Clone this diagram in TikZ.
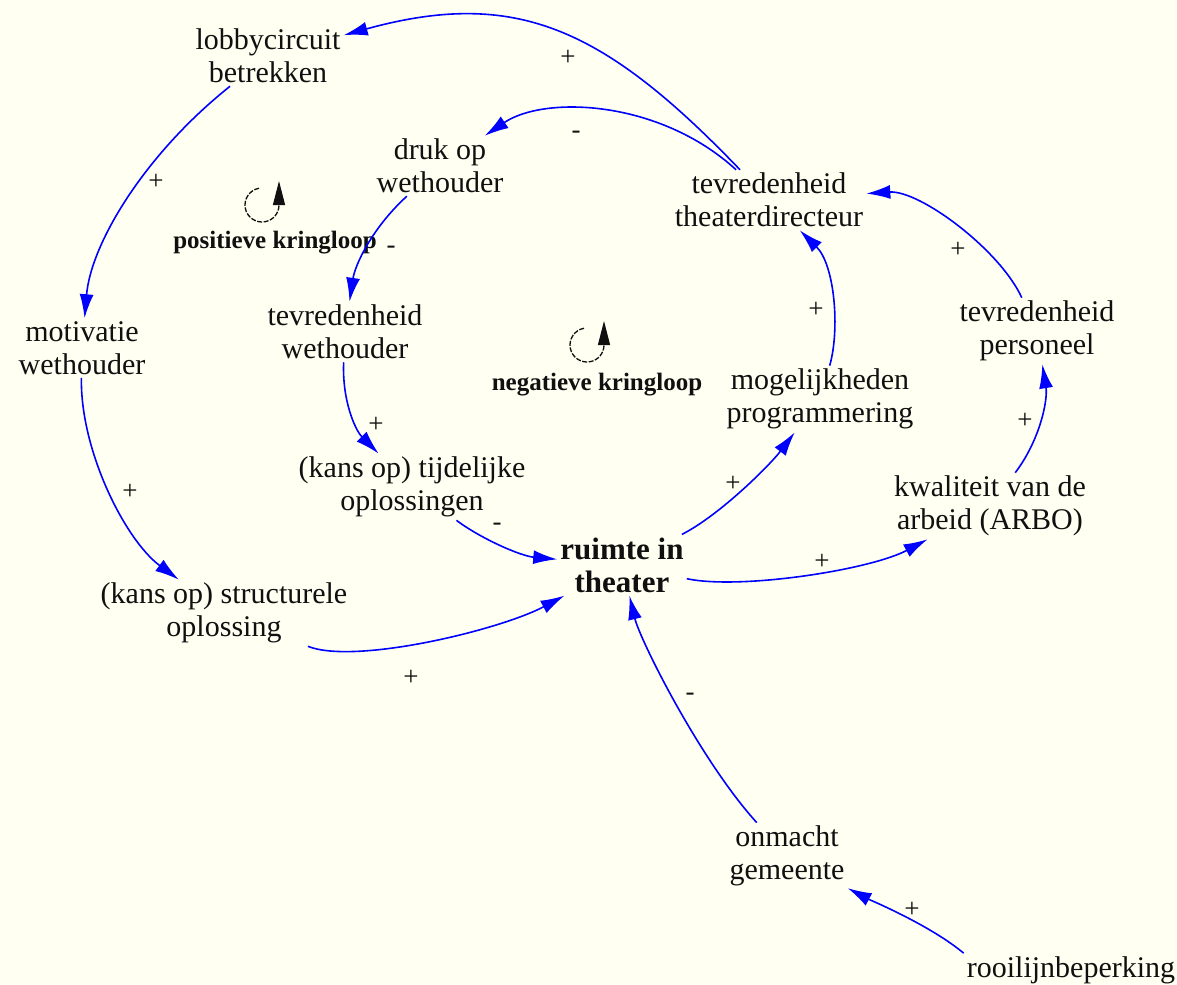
\documentclass[tikz,border=0pt]{standalone}
\usepackage{fontspec}
\setmainfont{Liberation Serif}
\usetikzlibrary{arrows.meta}
\definecolor{cldbg}{RGB}{255,255,242}
\definecolor{cldlink}{RGB}{0,0,255}
\definecolor{cldink}{RGB}{16,16,16}
\tikzset{
  var/.style={
    align=center, inner sep=3bp, text=cldink,
    font=\fontsize{30bp}{33bp}\selectfont
  },
  keyvar/.style={var, font=\fontsize{31bp}{33bp}\selectfont\bfseries},
  pol/.style={inner sep=0pt, text=cldink, font=\fontsize{27bp}{28bp}\selectfont},
  lnk/.style={-{Latex[length=24bp,width=14bp]}, draw=cldlink, line width=1.6bp},
  loopname/.style={inner sep=0pt, text=cldink, font=\fontsize{25bp}{27bp}\selectfont\bfseries},
  loopline/.style={
    -{Triangle[length=24bp,width=12bp]}, draw=cldink, line width=1.3bp,
    dash pattern=on 5bp off 1.5bp
  }
}

\begin{document}
\begin{tikzpicture}[x=1bp, y=-1bp]
  \fill[cldbg] (0,0) rectangle (1177,985);
  \useasboundingbox (0,0) rectangle (1177,985);
  % variables
  \node[var] (lobby) at (268,56) {lobbycircuit\\betrekken};
  \node[var] (druk) at (440,166) {druk op\\wethouder};
  \node[var] (tdir) at (769,200) {tevredenheid\\theaterdirecteur};
  \node[var] (motw) at (82,348) {motivatie\\wethouder};
  \node[var] (tweth) at (345,332) {tevredenheid\\wethouder};
  \node[var] (tpers) at (1037,331) {tevredenheid\\personeel};
  \node[var] (moge) at (820,399) {mogelijkheden\\programmering};
  \node[var] (tijd) at (412,487) {(kans op) tijdelijke\\oplossingen};
  \node[var] (kwal) at (990,506) {kwaliteit van de\\arbeid (ARBO)};
  \node[keyvar] (ruimte) at (622,565) {ruimte in\\theater};
  \node[var] (struct) at (224,613) {(kans op) structurele\\oplossing};
  \node[var] (onmacht) at (787,856) {onmacht\\gemeente};
  \node[var] (rooi) at (1071,970) {rooilijnbeperking};
  % loop markers
  \coordinate (posc) at (262,205);
  \draw[loopline] ([shift={(100:17bp)}]posc) arc[start angle=100, end angle=360, radius=17bp] -- ++(0,24bp);
  \node[loopname] (posl) at (275,243) {positieve kringloop};
  \coordinate (negc) at (587,345);
  \draw[loopline] ([shift={(100:17bp)}]negc) arc[start angle=100, end angle=360, radius=17bp] -- ++(0,24bp);
  \node[loopname] (negl) at (597,385) {negatieve kringloop};
  % links
  \draw[lnk] (tdir) .. controls (603,27) and (515,-12) .. (lobby);
  \draw[lnk] (tdir) .. controls (660,100) and (545,95) .. (druk);
  \draw[lnk] (lobby) .. controls (145,154) and (91,243) .. (motw);
  \draw[lnk] (druk) .. controls (372,228) and (355,265) .. (tweth);
  \draw[lnk] (motw) .. controls (80,450) and (125,540) .. (struct);
  \draw[lnk] (tweth) .. controls (342,400) and (355,430) .. (tijd);
  \draw[lnk] (tijd) .. controls (480,538) and (520,556) .. (ruimte);
  \draw[lnk] (struct) .. controls (355,665) and (500,630) .. (ruimte);
  \draw[lnk] (ruimte) .. controls (720,515) and (770,465) .. (moge);
  \draw[lnk] (moge) .. controls (840,330) and (835,265) .. (tdir);
  \draw[lnk] (ruimte) .. controls (740,590) and (870,570) .. (kwal);
  \draw[lnk] (kwal) .. controls (1040,440) and (1048,400) .. (tpers);
  \draw[lnk] (tpers) .. controls (1000,250) and (920,190) .. (tdir);
  \draw[lnk] (onmacht) .. controls (700,760) and (640,640) .. (ruimte);
  \draw[lnk] (rooi.north west) .. controls (930,925) and (870,900) .. (onmacht);
  % polarities
  \foreach \n/\x/\y/\s in {p1/568/58/+, p2/576/135/-, p3/156/182/+, p4/391/250/-,
    p5/130/492/+, p6/376/425/+, p7/497/527/-, p8/411/678/+, p9/733/484/+,
    p10/816/310/+, p11/822/562/+, p12/1025/421/+, p13/958/250/+, p14/690/697/-,
    p15/912/910/+}
    \node[pol] (\n) at (\x,\y) {\s};
\end{tikzpicture}
\end{document}
